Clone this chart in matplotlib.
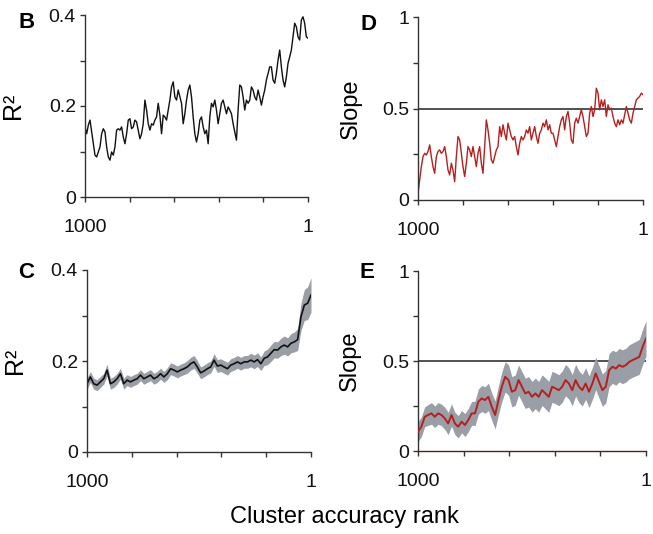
import matplotlib
matplotlib.use("Agg")
import matplotlib.pyplot as plt
import numpy as np

plt.rcParams['font.family'] = ['Liberation Sans', 'DejaVu Sans']

# values, ordered from rank 1000 (left) to rank 1 (right)
r2_single = [0.154, 0.139, 0.158, 0.169, 0.143, 0.117, 0.092, 0.088, 0.099, 0.110,
             0.139, 0.150, 0.143, 0.110, 0.088, 0.081, 0.099, 0.092, 0.110, 0.147,
             0.150, 0.147, 0.154, 0.132, 0.117, 0.139, 0.169, 0.172, 0.150, 0.154,
             0.169, 0.165, 0.147, 0.128, 0.139, 0.161, 0.213, 0.191, 0.161, 0.147,
             0.161, 0.158, 0.169, 0.176, 0.206, 0.180, 0.139, 0.180, 0.176, 0.169,
             0.191, 0.213, 0.242, 0.253, 0.220, 0.213, 0.235, 0.220, 0.206, 0.161,
             0.183, 0.213, 0.235, 0.246, 0.220, 0.176, 0.139, 0.121, 0.139, 0.169,
             0.176, 0.154, 0.139, 0.147, 0.117, 0.176, 0.206, 0.198, 0.213, 0.191,
             0.161, 0.183, 0.206, 0.213, 0.198, 0.183, 0.198, 0.191, 0.183, 0.161,
             0.143, 0.125, 0.191, 0.246, 0.242, 0.220, 0.191, 0.213, 0.206, 0.213,
             0.242, 0.235, 0.220, 0.213, 0.235, 0.220, 0.202, 0.220, 0.235, 0.257,
             0.272, 0.286, 0.286, 0.257, 0.250, 0.272, 0.301, 0.323, 0.286, 0.257,
             0.242, 0.264, 0.294, 0.308, 0.323, 0.352, 0.382, 0.374, 0.352, 0.345,
             0.389, 0.396, 0.382, 0.352, 0.349]

slope_single = [0.036, 0.109, 0.182, 0.237, 0.255, 0.246, 0.265, 0.301, 0.237, 0.182,
                0.146, 0.237, 0.265, 0.274, 0.255, 0.265, 0.292, 0.237, 0.164, 0.137,
                0.201, 0.164, 0.100, 0.237, 0.347, 0.328, 0.255, 0.182, 0.128, 0.201,
                0.292, 0.274, 0.237, 0.292, 0.237, 0.182, 0.255, 0.292, 0.201, 0.146,
                0.292, 0.438, 0.383, 0.310, 0.219, 0.201, 0.237, 0.274, 0.292, 0.401,
                0.347, 0.411, 0.365, 0.328, 0.420, 0.383, 0.347, 0.328, 0.347, 0.292,
                0.246, 0.310, 0.347, 0.328, 0.347, 0.383, 0.365, 0.401, 0.328, 0.365,
                0.401, 0.347, 0.310, 0.365, 0.383, 0.420, 0.401, 0.438, 0.383, 0.411,
                0.365, 0.365, 0.328, 0.292, 0.347, 0.401, 0.438, 0.456, 0.383, 0.456,
                0.484, 0.420, 0.328, 0.310, 0.420, 0.447, 0.420, 0.456, 0.493, 0.456,
                0.401, 0.347, 0.365, 0.474, 0.511, 0.456, 0.493, 0.611, 0.584, 0.493,
                0.547, 0.511, 0.547, 0.456, 0.520, 0.493, 0.502, 0.456, 0.420, 0.401,
                0.438, 0.411, 0.438, 0.420, 0.465, 0.511, 0.474, 0.438, 0.420, 0.474,
                0.511, 0.547, 0.557, 0.566, 0.584, 0.575]

r2_mean = [0.150, 0.165, 0.150, 0.147, 0.154, 0.161, 0.180, 0.150, 0.154, 0.161,
           0.172, 0.150, 0.158, 0.154, 0.158, 0.161, 0.169, 0.161, 0.165, 0.169,
           0.161, 0.165, 0.172, 0.165, 0.172, 0.183, 0.180, 0.176, 0.180, 0.183,
           0.187, 0.194, 0.198, 0.187, 0.174, 0.178, 0.183, 0.187, 0.202, 0.189,
           0.191, 0.187, 0.183, 0.191, 0.194, 0.198, 0.194, 0.198, 0.198, 0.202,
           0.198, 0.203, 0.194, 0.206, 0.209, 0.217, 0.225, 0.224, 0.231, 0.235,
           0.231, 0.239, 0.242, 0.247, 0.297, 0.323, 0.327, 0.345]
r2_err = [0.012, 0.012, 0.012, 0.012, 0.012, 0.012, 0.013, 0.012, 0.012, 0.012,
          0.012, 0.012, 0.012, 0.012, 0.012, 0.012, 0.012, 0.012, 0.012, 0.012,
          0.012, 0.012, 0.012, 0.012, 0.013, 0.013, 0.013, 0.013, 0.013, 0.013,
          0.014, 0.014, 0.014, 0.014, 0.013, 0.013, 0.013, 0.013, 0.014, 0.014,
          0.014, 0.014, 0.014, 0.014, 0.014, 0.014, 0.014, 0.014, 0.014, 0.015,
          0.015, 0.015, 0.015, 0.016, 0.017, 0.018, 0.018, 0.018, 0.019, 0.020,
          0.020, 0.021, 0.022, 0.024, 0.030, 0.034, 0.036, 0.038]

slope_mean = [0.107, 0.135, 0.190, 0.200, 0.209, 0.190, 0.209, 0.200, 0.181, 0.153,
              0.200, 0.153, 0.135, 0.163, 0.144, 0.172, 0.209, 0.209, 0.274, 0.292,
              0.283, 0.301, 0.246, 0.200, 0.283, 0.357, 0.412, 0.394, 0.329, 0.338,
              0.394, 0.357, 0.320, 0.329, 0.301, 0.320, 0.301, 0.338, 0.320, 0.301,
              0.357, 0.348, 0.338, 0.357, 0.394, 0.375, 0.338, 0.394, 0.357, 0.338,
              0.375, 0.329, 0.375, 0.431, 0.384, 0.338, 0.357, 0.449, 0.468, 0.458,
              0.477, 0.468, 0.477, 0.495, 0.505, 0.514, 0.523, 0.579, 0.625]
slope_err = [0.055, 0.055, 0.055, 0.058, 0.060, 0.060, 0.060, 0.060, 0.062, 0.062,
             0.062, 0.062, 0.062, 0.062, 0.064, 0.065, 0.066, 0.068, 0.070, 0.072,
             0.074, 0.076, 0.076, 0.078, 0.080, 0.082, 0.084, 0.084, 0.084, 0.084,
             0.084, 0.084, 0.084, 0.085, 0.085, 0.085, 0.085, 0.085, 0.086, 0.086,
             0.086, 0.086, 0.086, 0.087, 0.087, 0.087, 0.087, 0.088, 0.088, 0.088,
             0.088, 0.088, 0.089, 0.090, 0.090, 0.090, 0.090, 0.092, 0.092, 0.093,
             0.093, 0.094, 0.094, 0.095, 0.095, 0.096, 0.097, 0.098, 0.098]

xticks = np.linspace(1000, 1, 6)
xticklabels = ['1000', '', '', '', '', '1']
RED = '#b5201f'
BAND = '#9a9ea7'
SPINE = '#333333'

fig = plt.figure(figsize=(6.53, 5.34), dpi=100)
W, H = 653.0, 534.0


def make_ax(left, top, right, bottom):
    ax = fig.add_axes([left / W, 1 - bottom / H, (right - left) / W, (bottom - top) / H])
    for s in ['top', 'right']:
        ax.spines[s].set_visible(False)
    for s in ['left', 'bottom']:
        ax.spines[s].set_color(SPINE)
        ax.spines[s].set_linewidth(1.0)
    ax.set_xlim(1000, 1)
    ax.set_xticks(xticks)
    ax.set_xticklabels(xticklabels)
    ax.tick_params(axis='both', colors=SPINE, labelcolor='#111111', labelsize=14,
                   length=3.5, width=1.0)
    ax.tick_params(axis='x', pad=12)
    ax.tick_params(axis='y', pad=3)
    return ax


def r2_axis(ax):
    ax.set_ylim(0, 0.4)
    ax.set_yticks([0, 0.1, 0.2, 0.3, 0.4])
    ax.set_yticklabels(['0', '', '0.2', '', '0.4'])
    ax.set_ylabel('R²', fontsize=18)
    ax.yaxis.set_label_coords(-0.27, 0.5)


def slope_axis(ax):
    ax.set_ylim(0, 1)
    ax.set_yticks([0, 0.25, 0.5, 0.75, 1])
    ax.set_yticklabels(['0', '', '0.5', '', '1'])
    ax.set_ylabel('Slope', fontsize=17)
    ax.yaxis.set_label_coords(-0.25, 0.5)
    ax.axhline(0.5, color=SPINE, lw=1.2, zorder=1)


# B
axB = make_ax(85, 15, 308, 197)
r2_axis(axB)
axB.plot(np.linspace(1000, 1, len(r2_single)), r2_single, color='#111111', lw=1.0)

# D
axD = make_ax(418, 17, 643, 200)
slope_axis(axD)
axD.plot(np.linspace(1000, 1, len(slope_single)), slope_single, color=RED, lw=1.0)

# C
axC = make_ax(87, 270, 311, 452)
r2_axis(axC)
xc = np.linspace(1000, 1, len(r2_mean))
mc = np.array(r2_mean)
ec = np.array(r2_err)
axC.fill_between(xc, mc - ec, mc + ec, color=BAND, lw=0)
axC.plot(xc, mc, color='#111111', lw=1.2)

# E
axE = make_ax(418, 271, 646, 451)
slope_axis(axE)
xe = np.linspace(1000, 1, len(slope_mean))
me = np.array(slope_mean)
ee = np.array(slope_err)
axE.fill_between(xe, me - ee, me + ee, color=BAND, lw=0, zorder=2)
axE.plot(xe, me, color=RED, lw=1.4, zorder=3)
axE.spines['bottom'].set_color('#5a1c1c')

for lbl, x, y in [('B', 27, 22), ('D', 368, 24), ('C', 26, 272), ('E', 367, 272)]:
    fig.text(x / W, 1 - y / H, lbl, fontsize=16, fontweight='bold', ha='center', va='center')

fig.text(344 / W, 1 - 517 / H, 'Cluster accuracy rank', fontsize=17, ha='center', va='center')

fig.savefig('out.png', dpi=100)
